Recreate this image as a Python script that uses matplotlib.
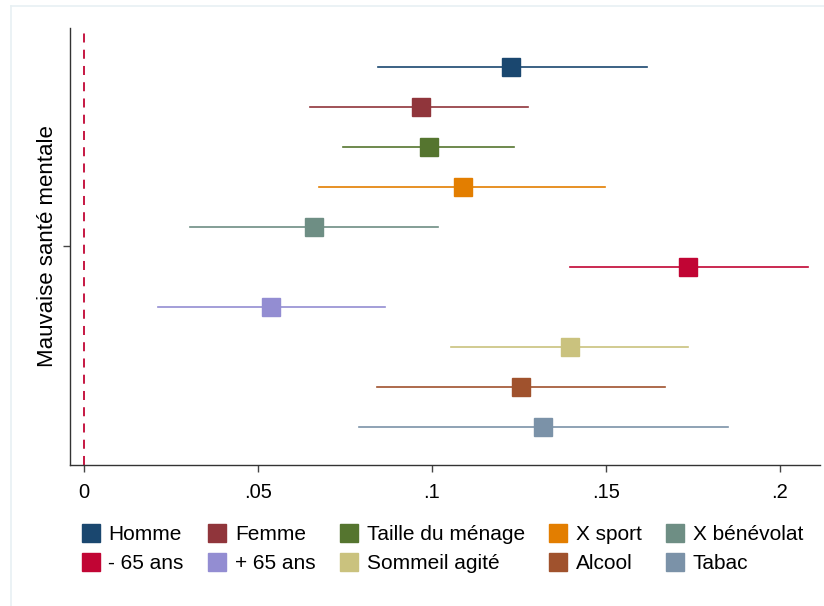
import matplotlib.pyplot as plt
from matplotlib.lines import Line2D

plt.rcParams['font.family'] = ['Liberation Sans', 'DejaVu Sans']

# coefficients and 95% CI
labels = ['Homme', 'Femme', 'Taille du ménage', 'X sport', 'X bénévolat',
          '- 65 ans', '+ 65 ans', 'Sommeil agité', 'Alcool', 'Tabac']
coef = [0.1228, 0.0968, 0.0991, 0.1089, 0.0660, 0.1736, 0.0537, 0.1398, 0.1256, 0.1319]
ci_low = [0.0844, 0.0651, 0.0744, 0.0675, 0.0305, 0.1397, 0.0213, 0.1055, 0.0843, 0.0790]
ci_high = [0.1617, 0.1277, 0.1237, 0.1497, 0.1017, 0.2082, 0.0865, 0.1737, 0.1670, 0.1851]
colors = ['#1a476f', '#90353b', '#55752f', '#e37e00', '#6e8e84',
          '#c10534', '#938dd2', '#cac27e', '#a0522d', '#7b92a8']
xticks = [0, 0.05, 0.1, 0.15, 0.2]
xticklabels = ['0', '.05', '.1', '.15', '.2']

fig = plt.figure(figsize=(8.24, 6.06), dpi=100)

# faint outer frame of the graph region (top and left edges visible)
fig.add_artist(Line2D([0.013, 1], [0.990, 0.990], color='#e8f0f3', lw=1.2))
fig.add_artist(Line2D([0.013, 0.013], [0, 0.990], color='#e8f0f3', lw=1.2))

ax = fig.add_axes([0.085, 0.233, 0.91, 0.721])

for i in range(len(labels)):
    y = i + 1
    ax.plot([ci_low[i], ci_high[i]], [y, y], color=colors[i], lw=1.2, zorder=2)
    ax.plot(coef[i], y, marker='s', ms=12.5, color=colors[i], mec=colors[i], zorder=3)

ax.axvline(0, color='#c10534', lw=1.3, ls=(0, (5, 4)), zorder=1)

ax.set_xlim(-0.004, 0.2115)
ax.set_ylim(10.95, 0.025)
ax.set_xticks(xticks)
ax.set_xticklabels(xticklabels, fontsize=14.5)
ax.set_yticks([5.475])
ax.set_yticklabels(['Mauvaise santé mentale'], rotation=90, va='center', fontsize=16)
ax.tick_params(axis='both', length=5, width=1, color='#444444', pad=8)
ax.tick_params(axis='y', pad=4)
for s in ['top', 'right']:
    ax.spines[s].set_visible(False)
for s in ['left', 'bottom']:
    ax.spines[s].set_color('#333333')
    ax.spines[s].set_linewidth(1)

# legend is filled column by column, so reorder to get row-major layout
ncol = 5
order = [r * ncol + c for c in range(ncol) for r in range(2)]
handles = [Line2D([], [], ls='none', marker='s', ms=12.5, color=c, mec=c) for c in colors]
fig.legend([handles[k] for k in order], [labels[k] for k in order], ncol=ncol,
           loc='upper left', bbox_to_anchor=(0.1, 0.134),
           frameon=False, fontsize=15, handlelength=0.8, handletextpad=0.45,
           columnspacing=1.2, labelspacing=0.5, borderaxespad=0, borderpad=0)

fig.savefig('out.png', dpi=100)
